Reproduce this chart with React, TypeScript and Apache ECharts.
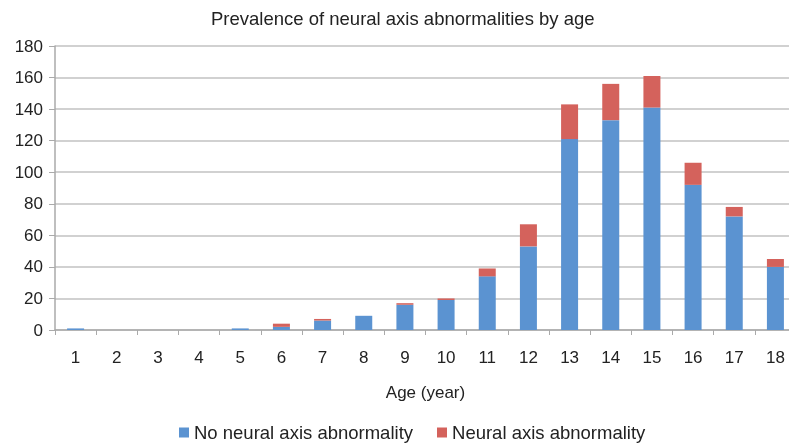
import React, { useEffect, useRef } from "react";
import * as echarts from "echarts";

const ages = ["1","2","3","4","5","6","7","8","9","10","11","12","13","14","15","16","17","18"];
const noAbnormality = [1, 0, 0, 0, 1, 2, 6, 9, 16, 19, 34, 53, 121, 133, 141, 92, 72, 40];
const abnormality = [0, 0, 0, 0, 0, 2, 1, 0, 1, 1, 5, 14, 22, 23, 20, 14, 6, 5];
const yTicks = { min: 0, max: 180, interval: 20 };

export default function App() {
  const ref = useRef<HTMLDivElement>(null);
  useEffect(() => {
    if (!ref.current) return;
    const chart = echarts.init(ref.current, null, { renderer: "svg" });
    const font = "Liberation Sans, Arial, sans-serif";
    chart.setOption({
      animation: false,
      textStyle: { fontFamily: font },
      title: {
        text: "Prevalence of neural axis abnormalities by age",
        left: 206,
        top: 4,
        textStyle: { fontSize: 18.5, fontWeight: "normal", color: "#222", fontFamily: font },
      },
      legend: {
        bottom: 1,
        left: 174,
        itemWidth: 10,
        itemHeight: 10,
        itemGap: 24,
        icon: "rect",
        textStyle: { fontSize: 18.5, color: "#222", fontFamily: font },
        data: ["No neural axis abnormality", "Neural axis abnormality"],
      },
      grid: { left: 55, top: 46, bottom: 118, width: 741, outerBoundsMode: "none", containLabel: false },
      xAxis: {
        type: "category",
        data: ages,
        name: "Age (year)",
        nameLocation: "middle",
        nameGap: 54,
        nameTextStyle: { fontSize: 17, color: "#222" },
        axisLine: { lineStyle: { color: "#aaa", width: 1.5 } },
        axisTick: { show: true, length: 5, lineStyle: { color: "#aaa" } },
        axisLabel: { fontSize: 17, color: "#222", margin: 19 },
      },
      yAxis: {
        type: "value",
        min: yTicks.min,
        max: yTicks.max,
        interval: yTicks.interval,
        axisLine: { show: true, lineStyle: { color: "#aaa", width: 1.5 } },
        axisTick: { show: true, length: 6, lineStyle: { color: "#aaa" } },
        axisLabel: { fontSize: 17, color: "#222", margin: 12 },
        splitLine: { lineStyle: { color: "#c2c2c2", width: 1.5 } },
      },
      series: [
        {
          name: "No neural axis abnormality",
          type: "bar",
          stack: "total",
          barWidth: 17,
          data: noAbnormality,
          itemStyle: { color: "#5B93D1" },
        },
        {
          name: "Neural axis abnormality",
          type: "bar",
          stack: "total",
          barWidth: 17,
          data: abnormality,
          itemStyle: { color: "#D4625C" },
        },
      ],
    });
    return () => chart.dispose();
  }, []);
  return <div ref={ref} style={{ position: "fixed", left: 0, top: 0, width: 789, height: 448 }} />;
}
